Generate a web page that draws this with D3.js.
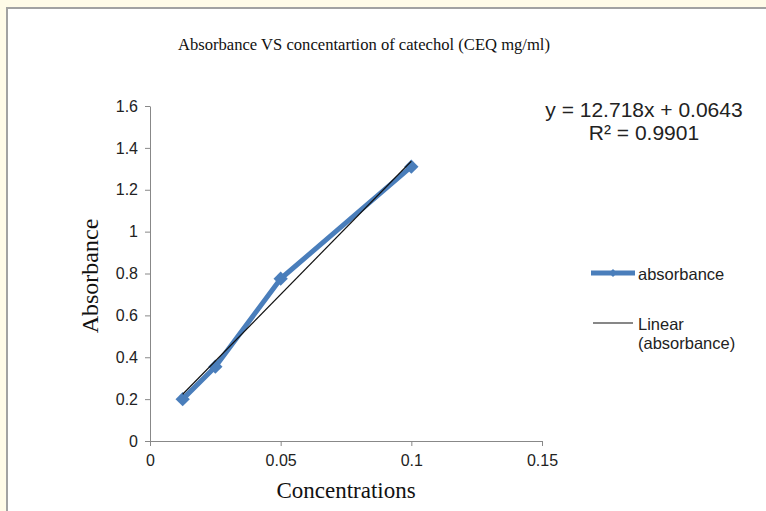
<!DOCTYPE html>
<html>
<head>
<meta charset="utf-8">
<script src="https://cdn.jsdelivr.net/npm/d3@7"></script>
<style>
  html, body { margin: 0; padding: 0; background: #fffbe8; }
  svg { display: block; }
  .serif { font-family: "Times New Roman", "Liberation Serif", serif; fill: #111; }
  .sans { font-family: Arial, "Liberation Sans", sans-serif; fill: #222; }
</style>
</head>
<body>
<script>
  // data
  const concentrations = [0.0125, 0.025, 0.05, 0.1];
  const absorbance = [0.2, 0.355, 0.775, 1.31];
  const slope = 12.718, intercept = 0.0643, r2 = 0.9901;
  const xTicks = [0, 0.05, 0.1, 0.15];
  const yTicks = [0, 0.2, 0.4, 0.6, 0.8, 1, 1.2, 1.4, 1.6];

  const width = 766, height = 511;
  const blue = "#4a7ebb";

  const svg = d3.select("body").append("svg")
    .attr("width", width).attr("height", height);

  // chart frame
  svg.append("rect")
    .attr("x", 7).attr("y", 8)
    .attr("width", width + 20).attr("height", height + 20)
    .attr("fill", "white")
    .attr("stroke", "#a2a2a2")
    .attr("stroke-width", 2);

  const x = d3.scaleLinear().domain([0, 0.15]).range([150, 542]);
  const y = d3.scaleLinear().domain([0, 1.6]).range([441, 106]);

  const xAxis = svg.append("g")
    .attr("transform", `translate(0,${y(0)})`)
    .call(d3.axisBottom(x).tickValues(xTicks).tickFormat(d3.format("")).tickSize(5).tickSizeOuter(0));
  xAxis.selectAll(".tick text").attr("dy", "1.05em");

  const yAxis = svg.append("g")
    .attr("transform", `translate(${x(0)},0)`)
    .call(d3.axisLeft(y).tickValues(yTicks).tickFormat(d3.format("")).tickSize(5).tickSizeOuter(0));
  yAxis.selectAll(".tick text").attr("x", -12);

  svg.selectAll(".tick text")
    .style("font-family", "Arial, 'Liberation Sans', sans-serif")
    .style("font-size", "16px")
    .attr("fill", "#222");
  svg.selectAll(".domain, .tick line").attr("stroke", "#888");

  // series
  const pts = concentrations.map((c, i) => [c, absorbance[i]]);
  svg.append("path")
    .datum(pts)
    .attr("fill", "none")
    .attr("stroke", blue)
    .attr("stroke-width", 5)
    .attr("stroke-linejoin", "round")
    .attr("d", d3.line().x(d => x(d[0])).y(d => y(d[1])));

  svg.selectAll(".pt")
    .data(pts)
    .enter().append("path")
    .attr("class", "pt")
    .attr("transform", d => `translate(${x(d[0])},${y(d[1])})`)
    .attr("d", d3.symbol(d3.symbolDiamond2, 130))
    .attr("fill", blue);

  // linear trendline
  const xr = d3.extent(concentrations);
  svg.append("line")
    .attr("x1", x(xr[0])).attr("y1", y(slope * xr[0] + intercept))
    .attr("x2", x(xr[1])).attr("y2", y(slope * xr[1] + intercept))
    .attr("stroke", "#111")
    .attr("stroke-width", 1.2);

  // titles
  svg.append("text").attr("class", "serif")
    .attr("x", 364).attr("y", 50)
    .attr("text-anchor", "middle")
    .style("font-size", "16.6px")
    .text("Absorbance VS concentartion of catechol (CEQ mg/ml)");

  svg.append("text").attr("class", "serif")
    .attr("transform", "translate(98,276) rotate(-90)")
    .attr("text-anchor", "middle")
    .style("font-size", "24px")
    .text("Absorbance");

  svg.append("text").attr("class", "serif")
    .attr("x", 346).attr("y", 498)
    .attr("text-anchor", "middle")
    .style("font-size", "23px")
    .text("Concentrations");

  // equation
  svg.append("text").attr("class", "sans")
    .attr("x", 644).attr("y", 117)
    .attr("text-anchor", "middle")
    .style("font-size", "21px")
    .text(`y = ${slope}x + ${intercept}`);
  svg.append("text").attr("class", "sans")
    .attr("x", 644).attr("y", 140)
    .attr("text-anchor", "middle")
    .style("font-size", "21px")
    .text(`R² = ${r2}`);

  // legend
  const lg = svg.append("g");
  lg.append("line")
    .attr("x1", 591).attr("x2", 635).attr("y1", 273).attr("y2", 273)
    .attr("stroke", blue).attr("stroke-width", 5);
  lg.append("path")
    .attr("transform", "translate(613,273)")
    .attr("d", d3.symbol(d3.symbolDiamond2, 40))
    .attr("fill", blue);
  lg.append("text").attr("class", "sans")
    .attr("x", 638).attr("y", 280)
    .style("font-size", "16.5px")
    .text("absorbance");

  lg.append("line")
    .attr("x1", 593).attr("x2", 633).attr("y1", 323).attr("y2", 323)
    .attr("stroke", "#111").attr("stroke-width", 1.2);
  lg.append("text").attr("class", "sans")
    .attr("x", 638).attr("y", 330)
    .style("font-size", "16.5px")
    .text("Linear");
  lg.append("text").attr("class", "sans")
    .attr("x", 638).attr("y", 349)
    .style("font-size", "16.5px")
    .text("(absorbance)");
</script>
</body>
</html>
